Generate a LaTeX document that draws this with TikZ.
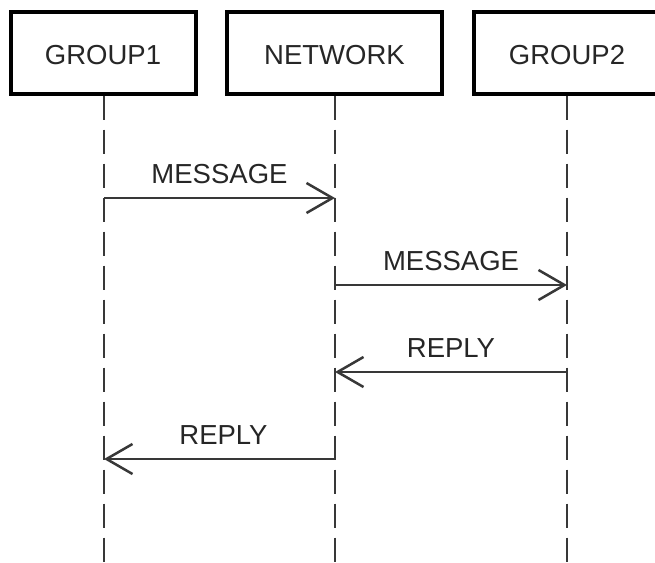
\documentclass[tikz,border=0pt]{standalone}
\usepackage{fontspec}
\setmainfont{Liberation Sans}
\usetikzlibrary{arrows.meta}

\begin{document}
\begin{tikzpicture}[x=1pt, y=-1pt, font=\fontsize{27.5}{32}\selectfont,
        actor/.style = {draw, line width=4pt, minimum height=82pt, inner sep=0pt, text height=24pt, text depth=0pt, text=black!85},
        life/.style = {draw=black!78, line width=2.5pt, dash pattern=on 24pt off 10pt},
        msg/.style = {draw=black!78, line width=2.5pt, -{Straight Barb[length=26pt, width=30pt, line width=2.5pt]}},
        tag/.style = {above=13pt, inner sep=0pt, text=black!85}]
    \clip (0,0) rectangle (655,562);
        % the three parties
        \node[actor, minimum width=185pt] (g1) at (103,52.6) {GROUP1};
        \node[actor, minimum width=215pt] (net) at (334.5,52.6) {NETWORK};
        \node[actor, minimum width=187pt] (g2) at (567,52.6) {GROUP2};
        % lifelines
        \coordinate (g1end) at (104,562);
        \coordinate (netend) at (335,562);
        \coordinate (g2end) at (567,562);
        \draw[life] (g1end |- g1.south) -- (g1end);
        \draw[life] (netend |- net.south) -- (netend);
        \draw[life] (g2end |- g2.south) -- (g2end);
        % messages
        \draw[msg] (g1end |- 0,198) -- node[tag] {MESSAGE} (netend |- 0,198);
        \draw[msg] (netend |- 0,285) -- node[tag] {MESSAGE} (g2end |- 0,285);
        \draw[msg] (g2end |- 0,372) -- node[tag] {REPLY} (netend |- 0,372);
        \draw[msg] (netend |- 0,459) -- node[tag, xshift=4pt] {REPLY} (g1end |- 0,459);
    \end{tikzpicture}
\end{document}
